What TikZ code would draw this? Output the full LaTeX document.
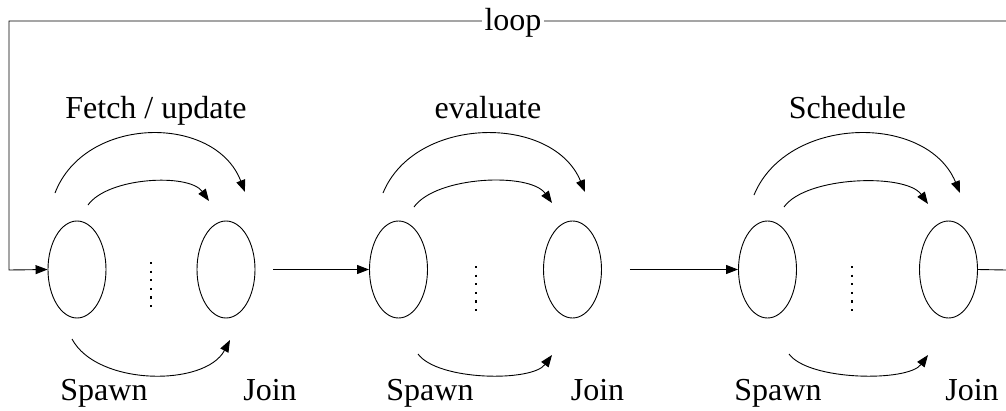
\documentclass[tikz,border=0pt]{standalone}
\usepackage{fontspec}
\setmainfont{Liberation Serif}
\usetikzlibrary{arrows.meta,shapes.geometric}
\begin{document}
\begin{tikzpicture}[x=1pt,y=-1pt,
  line width=0.9pt,
  cell/.style={draw,ellipse,minimum width=58pt,minimum height=97pt,inner sep=0pt},
  arr/.style={-{Triangle[length=12pt,width=9pt]}},
  lbl/.style={anchor=base,font=\fontsize{32}{36}\selectfont,inner sep=0pt},
  dots/.style={line width=2.2pt,dash pattern=on 2.2pt off 6.4pt}]
\useasboundingbox (0,0) rectangle (1006,410);

% ellipses
\node[cell] (s1) at (77,269.5) {};
\node[cell] (j1) at (226,269.5) {};
\node[cell] (s2) at (398.5,269.5) {};
\node[cell] (j2) at (572.5,269.5) {};
\node[cell] (s3) at (767.5,269.5) {};
\node[cell] (j3) at (948.5,269.5) {};

% dots
\draw[dots] (151,262) -- (151,307);
\draw[dots] (476,266) -- (476,311);
\draw[dots] (852,266) -- (852,311);

% labels
\node[lbl] (t1) at (156,118) {Fetch / update};
\node[lbl] (t2) at (488,118) {evaluate};
\node[lbl] (t3) at (847.5,118) {Schedule};
\node[lbl] (sp1) at (104,400) {Spawn};
\node[lbl] (jn1) at (270,400) {Join};
\node[lbl] (sp2) at (430,400) {Spawn};
\node[lbl] (jn2) at (597.5,400) {Join};
\node[lbl] (sp3) at (778,400) {Spawn};
\node[lbl] (jn3) at (972,400) {Join};

% arcs group 1
\coordinate (a1o) at (55,193); \coordinate (b1o) at (245,192);
\coordinate (a1i) at (88,205); \coordinate (b1i) at (209,201);
\coordinate (a1b) at (72,339); \coordinate (b1b) at (230,340);
\draw[arr] (a1o) .. controls (85,115) and (215,114) .. (b1o);
\draw[arr] (a1i) .. controls (108,177) and (189,173) .. (b1i);
\draw[arr] (a1b) .. controls (97,386) and (205,387) .. (b1b);

% arcs group 2
\coordinate (a2o) at (383,193); \coordinate (b2o) at (585,192);
\coordinate (a2i) at (414,207); \coordinate (b2i) at (552,203);
\coordinate (a2b) at (418,354); \coordinate (b2b) at (552,355);
\draw[arr] (a2o) .. controls (415,115) and (553,114) .. (b2o);
\draw[arr] (a2i) .. controls (436,176) and (530,172) .. (b2i);
\draw[arr] (a2b) .. controls (438,381) and (532,382) .. (b2b);

% arcs group 3
\coordinate (a3o) at (754,195); \coordinate (b3o) at (960,193);
\coordinate (a3i) at (784,207); \coordinate (b3i) at (928,204);
\coordinate (a3b) at (789,354); \coordinate (b3b) at (928,355);
\draw[arr] (a3o) .. controls (787,115) and (927,113) .. (b3o);
\draw[arr] (a3i) .. controls (806,176) and (906,173) .. (b3i);
\draw[arr] (a3b) .. controls (809,381) and (908,382) .. (b3b);

% connectors between groups
\draw[arr,shorten <=18pt] (j1) -- (s2);
\draw[arr,shorten <=28pt] (j2) -- (s3);

% loop
\coordinate (e1) at (1006,270);
\coordinate (e2) at (1006,21);
\coordinate (c1) at (9,21);
\coordinate (c2) at (9,270);
\draw (j3.east) -- (e1);
\draw[arr] (e2) -- (c1) -- (c2) -- (s1.west);
\node[lbl,fill=white,inner xsep=3pt,inner ysep=0pt] (lp) at (513,30) {loop};
\end{tikzpicture}
\end{document}
